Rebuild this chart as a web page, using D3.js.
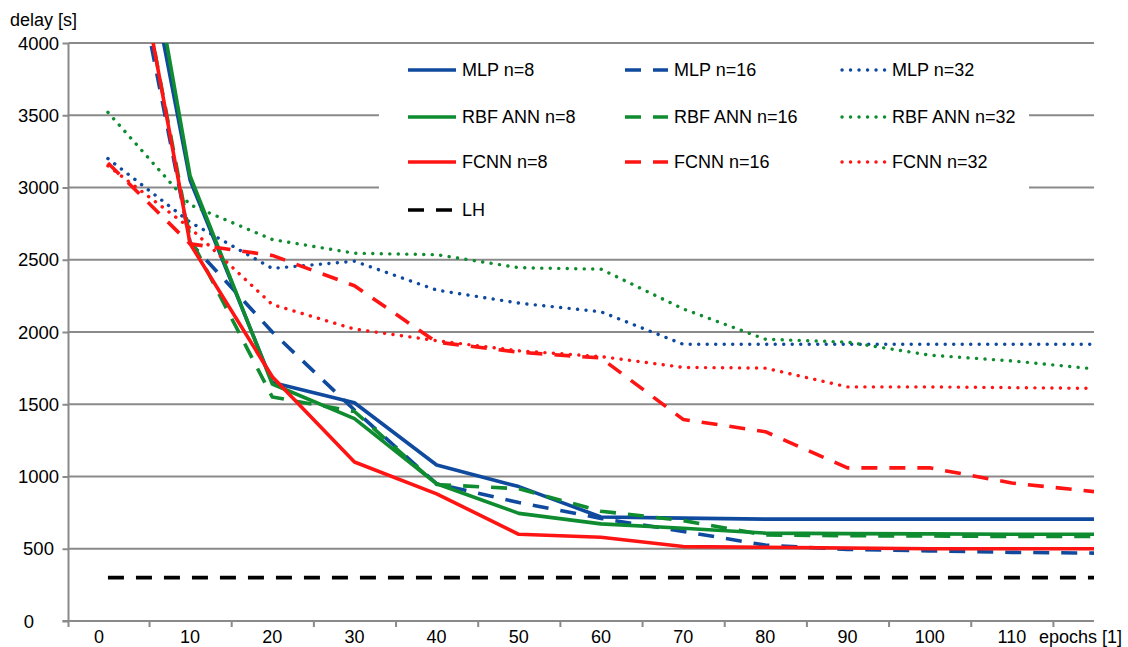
<!DOCTYPE html>
<html>
<head>
<meta charset="utf-8">
<script src="https://cdn.jsdelivr.net/npm/d3@7/dist/d3.min.js"></script>
<style>
  html, body { margin: 0; padding: 0; background: #fff; }
  svg { display: block; font-family: "Liberation Sans", Arial, sans-serif; }
</style>
</head>
<body>
<svg id="chart" width="1128" height="647"></svg>
<script>
// Training epochs at which the delay was recorded
const epochs = [0, 10, 20, 30, 40, 50, 60, 70, 80, 90, 100, 110, 120];

// Delay [s] per network type and size n
const mlp8   = [6000, 3050, 1650, 1510, 1080, 930, 720, 712, 705, 705, 705, 705, 705];
const mlp16  = [5500, 2620, 2000, 1460, 950, 820, 710, 620, 525, 495, 485, 475, 470];
const mlp32  = [3200, 2760, 2440, 2490, 2290, 2200, 2140, 1915, 1915, 1915, 1915, 1915, 1915];
const rbf8   = [6300, 3080, 1640, 1400, 950, 745, 672, 642, 608, 605, 603, 600, 600];
const rbf16  = [5650, 2650, 1550, 1450, 945, 915, 760, 695, 595, 590, 588, 585, 585];
const rbf32  = [3520, 2880, 2640, 2545, 2535, 2445, 2435, 2160, 1950, 1930, 1840, 1800, 1745];
const fcnn8  = [5700, 2610, 1690, 1100, 880, 600, 580, 515, 510, 505, 500, 500, 500];
const fcnn16 = [3170, 2610, 2530, 2320, 1930, 1860, 1820, 1395, 1310, 1060, 1060, 955, 895];
const fcnn32 = [3150, 2720, 2190, 2020, 1940, 1870, 1830, 1755, 1750, 1620, 1620, 1615, 1610];
const lh     = [300, 300, 300, 300, 300, 300, 300, 300, 300, 300, 300, 300, 300];

const seriesNames = ["MLP n=8", "MLP n=16", "MLP n=32",
                     "RBF ANN n=8", "RBF ANN n=16", "RBF ANN n=32",
                     "FCNN n=8", "FCNN n=16", "FCNN n=32", "LH"];
const seriesValues = [mlp8, mlp16, mlp32, rbf8, rbf16, rbf32, fcnn8, fcnn16, fcnn32, lh];

const xTickLabels = [0, 10, 20, 30, 40, 50, 60, 70, 80, 90, 100, 110];
const xTickMarks  = [5, 15, 25, 35, 45, 55, 65, 75, 85, 95, 105, 115];
const yTicks      = [0, 500, 1000, 1500, 2000, 2500, 3000, 3500, 4000];

const xTitle = "epochs [1]";
const yTitle = "delay [s]";

// ---- styling ----
const BLUE = "#0f4a9f", GREEN = "#0e8c2f", RED = "#ff1414", BLACK = "#000";
const colorOf = [BLUE, BLUE, BLUE, GREEN, GREEN, GREEN, RED, RED, RED, BLACK];
const SOLID = null, DASH = "16 12", DOT = "0.1 8.4";
const dashOf = [SOLID, DASH, DOT, SOLID, DASH, DOT, SOLID, DASH, DOT, DASH];
const widthOf = [3.6, 3.6, 3.4, 3.6, 3.6, 3.4, 3.6, 3.6, 3.4, 3.6];
const GRID = "#8a8a8a";

const svg = d3.select("#chart");
const plotLeft = 68.5, plotRight = 1094, plotTop = 43, plotBottom = 621;

const x = d3.scaleLinear().domain([-4.8, 120]).range([plotLeft, plotRight]);
const y = d3.scaleLinear().domain([0, 4000]).range([plotBottom, plotTop]);

// horizontal gridlines
svg.append("g")
  .selectAll("line")
  .data(yTicks.filter(v => v > 0))
  .join("line")
  .attr("x1", plotLeft).attr("x2", plotRight)
  .attr("y1", d => y(d)).attr("y2", d => y(d))
  .attr("stroke", GRID).attr("stroke-width", 2);

// y axis
const yAxis = svg.append("g")
  .attr("transform", `translate(${plotLeft},0)`)
  .call(d3.axisLeft(y).tickValues(yTicks).tickSize(6).tickFormat(""));
yAxis.select(".domain").attr("stroke", GRID).attr("stroke-width", 2)
  .attr("d", `M0,${plotTop}V${plotBottom + 6}`);
yAxis.selectAll(".tick line").attr("stroke", GRID).attr("stroke-width", 2);

svg.append("g")
  .selectAll("text")
  .data(yTicks)
  .join("text")
  .attr("x", d => d === 0 ? 29 : 38.5)
  .attr("y", d => y(d))
  .attr("dy", "0.36em")
  .attr("text-anchor", "middle")
  .attr("font-size", 18.5)
  .attr("fill", "#000")
  .text(d => d);

// x axis
const xAxis = svg.append("g")
  .attr("transform", `translate(0,${plotBottom})`)
  .call(d3.axisBottom(x).tickValues(xTickMarks).tickSize(6).tickFormat(""));
xAxis.select(".domain").attr("stroke", GRID).attr("stroke-width", 2)
  .attr("d", `M${plotLeft - 6},0H${plotRight}`);
xAxis.selectAll(".tick line").attr("stroke", GRID).attr("stroke-width", 2);

svg.append("g")
  .selectAll("text")
  .data(xTickLabels)
  .join("text")
  .attr("x", d => d === 0 ? x(d) - 9 : x(d))
  .attr("y", 643)
  .attr("text-anchor", "middle")
  .attr("font-size", 18)
  .attr("fill", "#000")
  .text(d => d);

svg.append("text")
  .attr("x", 1039).attr("y", 643)
  .attr("font-size", 18).attr("fill", "#000")
  .text(xTitle);

svg.append("text")
  .attr("x", 10).attr("y", 26)
  .attr("font-size", 18).attr("fill", "#000")
  .text(yTitle);

// series
svg.append("clipPath").attr("id", "plot-clip")
  .append("rect")
  .attr("x", plotLeft).attr("y", plotTop)
  .attr("width", plotRight - plotLeft).attr("height", plotBottom - plotTop);

const line = d3.line()
  .x((d, i) => x(epochs[i]))
  .y(d => y(d));

const lines = svg.append("g").attr("clip-path", "url(#plot-clip)");
seriesValues.forEach((vals, k) => {
  lines.append("path")
    .datum(vals)
    .attr("d", line)
    .attr("fill", "none")
    .attr("stroke", colorOf[k])
    .attr("stroke-width", widthOf[k])
    .attr("stroke-dasharray", dashOf[k])
    .attr("stroke-linecap", dashOf[k] === DOT ? "round" : "butt")
    .attr("stroke-linejoin", "round");
});

// legend
const legend = svg.append("g");
legend.append("rect")
  .attr("x", 379).attr("y", 50)
  .attr("width", 650).attr("height", 184)
  .attr("fill", "#fff");

const colX = [408, 625, 842];
const rowY = [70, 117, 162, 210];
const sampleLen = [48, 43, 44];
seriesNames.forEach((name, k) => {
  const col = k === 9 ? 0 : k % 3;
  const row = k === 9 ? 3 : Math.floor(k / 3);
  const x0 = colX[col];
  const g = legend.append("g");
  g.append("line")
    .attr("x1", x0).attr("x2", x0 + (k === 9 ? 44 : sampleLen[col]))
    .attr("y1", rowY[row]).attr("y2", rowY[row])
    .attr("stroke", colorOf[k])
    .attr("stroke-width", widthOf[k])
    .attr("stroke-dasharray", dashOf[k])
    .attr("stroke-linecap", dashOf[k] === DOT ? "round" : "butt");
  g.append("text")
    .attr("x", x0 + (k === 9 ? 54 : sampleLen[col] + 6))
    .attr("y", rowY[row])
    .attr("dy", "0.36em")
    .attr("font-size", 18)
    .attr("fill", "#000")
    .text(name);
});
</script>
</body>
</html>
